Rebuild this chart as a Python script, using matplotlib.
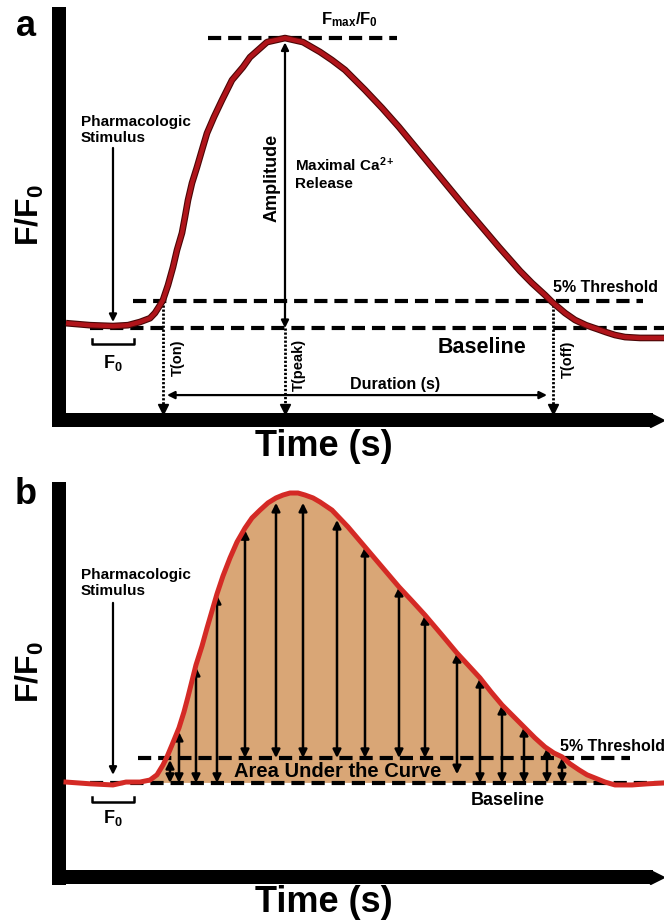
import numpy as np
import matplotlib
matplotlib.use("Agg")
import matplotlib.pyplot as plt

# -------------------------
# STYLE
# -------------------------
plt.rcParams['font.family'] = ['Liberation Sans', 'DejaVu Sans']
plt.rcParams['mathtext.fontset'] = 'custom'
plt.rcParams['mathtext.rm'] = 'Liberation Sans'
plt.rcParams['mathtext.bf'] = 'Liberation Sans:bold'
plt.rcParams['mathtext.it'] = 'Liberation Sans:italic'
plt.rcParams['lines.scale_dashes'] = False

# -------------------------
# DATA (time in s, signal in F/F0)
# -------------------------
time_a = [0.00, 0.48, 0.94, 1.24, 1.48, 1.68, 1.78, 1.88, 1.94, 2.04, 2.14, 2.22,
          2.32, 2.38, 2.44, 2.52, 2.62, 2.72, 2.82, 2.96, 3.12, 3.32, 3.54, 3.68,
          4.02, 4.38, 4.74, 5.08, 5.32, 5.58, 5.98, 6.32, 6.66, 7.32, 7.98, 8.66,
          9.08, 9.32, 9.58, 9.72, 9.98, 10.18, 10.40, 10.62, 10.80, 10.98, 11.18,
          11.48, 11.96]
signal_a = [1.017, 1.010, 1.007, 1.010, 1.021, 1.034, 1.052, 1.079, 1.097, 1.148,
            1.210, 1.269, 1.328, 1.383, 1.441, 1.500, 1.555, 1.614, 1.672, 1.728,
            1.786, 1.855, 1.900, 1.934, 1.986, 2.000, 1.986, 1.952, 1.924, 1.890,
            1.821, 1.759, 1.693, 1.555, 1.417, 1.279, 1.197, 1.155, 1.114, 1.090,
            1.052, 1.028, 1.010, 0.997, 0.986, 0.976, 0.969, 0.966, 0.966]

time_b = [0.00, 0.48, 0.94, 1.20, 1.48, 1.68, 1.82, 1.94, 2.02, 2.12, 2.26, 2.36,
          2.44, 2.52, 2.60, 2.72, 2.82, 2.92, 3.02, 3.14, 3.28, 3.42, 3.58, 3.72,
          3.88, 4.04, 4.20, 4.34, 4.48, 4.64, 4.78, 4.94, 5.08, 5.32, 5.64, 5.98,
          6.32, 6.66, 6.92, 7.18, 7.50, 7.82, 8.04, 8.28, 8.50, 8.72, 8.94, 9.16,
          9.38, 9.58, 9.76, 9.92, 10.08, 10.26, 10.42, 10.58, 10.78, 10.98, 11.32,
          11.64, 11.96]
signal_b = [1.003, 0.997, 0.993, 1.003, 1.003, 1.010, 1.028, 1.062, 1.090, 1.131,
            1.190, 1.245, 1.297, 1.352, 1.407, 1.472, 1.534, 1.593, 1.652, 1.714,
            1.776, 1.831, 1.879, 1.914, 1.941, 1.966, 1.983, 1.993, 2.000, 2.000,
            1.993, 1.983, 1.969, 1.941, 1.883, 1.814, 1.745, 1.676, 1.628, 1.579,
            1.514, 1.448, 1.407, 1.362, 1.314, 1.269, 1.231, 1.193, 1.155, 1.124,
            1.103, 1.090, 1.066, 1.045, 1.028, 1.017, 1.003, 0.993, 0.993, 0.997,
            1.000]

# area-under-curve arrows in panel b
auc_t = [2.08, 2.26, 2.60, 3.02, 3.58, 4.20, 4.74, 5.42, 5.98, 6.66, 7.18, 7.82,
         8.28, 8.72, 9.16, 9.62, 9.92]
auc_top = [1.079, 1.176, 1.400, 1.648, 1.872, 1.966, 1.966, 1.907, 1.814, 1.676,
           1.579, 1.448, 1.362, 1.269, 1.193, 1.121, 1.086]
auc_bottom = [1.0, 1.0, 1.0, 1.0, 1.086, 1.086, 1.086, 1.086, 1.086, 1.086, 1.086,
              1.03, 1.0, 1.0, 1.0, 1.0, 1.0]

baseline = 1.0
threshold_a = 1.093
threshold_b = 1.086
peak_a = 2.0
t_on, t_peak, t_off = 1.94, 4.38, 9.74

# -------------------------
# FIGURE
# -------------------------
fig = plt.figure(figsize=(6.64, 9.23), dpi=100)
ax_a = fig.add_axes([0.0783, 0.5374, 0.9217, 0.4550])
ax_b = fig.add_axes([0.0783, 0.0412, 0.9217, 0.4366])
ax_a.set_xlim(-0.28, 11.96)
ax_a.set_ylim(0.659, 2.107)
ax_b.set_xlim(-0.28, 11.96)
ax_b.set_ylim(0.648, 2.038)

BOLD = dict(fontweight='bold', color='k')
DASH = dict(color='k', lw=3.0, linestyle=(0, (9.5, 5.0)), solid_capstyle='butt',
            dash_capstyle='butt')


def axis_frame(ax, xbar_y):
    ax.set_axis_off()
    ax.axvline(-0.14, 0, 1, color='k', lw=10.08, solid_capstyle='butt', clip_on=False)
    ax.axhline(xbar_y, 0, 0.982, color='k', lw=10.08, solid_capstyle='butt', clip_on=False)
    ax.plot([11.82], [xbar_y], marker='>', ms=10.08, color='k', clip_on=False)


def arrow(ax, x0, y0, x1, y1, style='-|>', lw=1.5, ms=10):
    ax.annotate('', xy=(x1, y1), xytext=(x0, y0),
                arrowprops=dict(arrowstyle=style, lw=lw, color='k',
                                mutation_scale=ms, shrinkA=0, shrinkB=0))


def f0_bracket(ax, yb, ytop, ylab):
    ax.plot([0.52, 0.52, 1.36, 1.36], [ytop, yb, yb, ytop], color='k', lw=1.8)
    ax.text(0.94, ylab, r'$\mathbf{F_0}$', fontsize=13, ha='center', va='center')


# ---------- panel a ----------
axis_frame(ax_a, 0.683)
ax_a.plot([2.84, 6.62], [peak_a, peak_a], **DASH)
ax_a.plot([1.34, 11.54], [threshold_a, threshold_a], **DASH)
ax_a.plot([0.48, 11.96], [baseline, baseline], **DASH)
ax_a.plot(time_a, signal_a, color='#4a0606', lw=4.8, solid_joinstyle='round',
          solid_capstyle='butt', zorder=4)
ax_a.plot(time_a, signal_a, color='#b0141a', lw=3.2, solid_joinstyle='round',
          solid_capstyle='butt', zorder=5)

# dotted time markers
for tx, ytop in [(t_on, threshold_a), (t_peak, baseline), (t_off, threshold_a)]:
    ax_a.plot([tx, tx], [ytop, 0.73], color='k', lw=2.0, linestyle=(0, (1.6, 1.3)))
    ax_a.plot([tx], [0.722], marker='v', ms=7, color='k')

arrow(ax_a, t_peak, 1.0, t_peak, 1.985, style='<|-|>', lw=1.6, ms=11)
arrow(ax_a, 2.02, 0.769, 9.62, 0.769, style='<|-|>', lw=1.6, ms=11)
arrow(ax_a, 0.94, 1.621, 0.94, 1.021, lw=1.6, ms=11)
f0_bracket(ax_a, 0.945, 0.962, 0.879)

ax_a.text(5.68, 2.062, r'$\mathbf{F_{max}/F_0}$', fontsize=12, ha='center', va='center')
ax_a.text(4.12, 1.517, 'Amplitude', fontsize=13, rotation=90, ha='center', va='center', **BOLD)
ax_a.text(4.58, 1.534, 'Maximal Ca$^{\\mathbf{2+}}$\nRelease', fontsize=11, ha='left',
          va='center', linespacing=1.25, **BOLD)
ax_a.text(0.30, 1.683, 'Pharmacologic\nStimulus', fontsize=11, ha='left', va='center',
          linespacing=1.25, **BOLD)
ax_a.text(2.24, 0.897, 'T(on)', fontsize=10.5, rotation=90, ha='center', va='center', **BOLD)
ax_a.text(4.66, 0.872, 'T(peak)', fontsize=10.5, rotation=90, ha='center', va='center', **BOLD)
ax_a.text(10.04, 0.893, 'T(off)', fontsize=10.5, rotation=90, ha='center', va='center', **BOLD)
ax_a.text(6.58, 0.807, 'Duration (s)', fontsize=11.5, ha='center', va='center', **BOLD)
ax_a.text(9.74, 1.141, '5% Threshold', fontsize=11.5, ha='left', va='center', **BOLD)
ax_a.text(8.32, 0.934, 'Baseline', fontsize=15.5, ha='center', va='center', **BOLD)

# ---------- panel b ----------
axis_frame(ax_b, 0.674)
sig_b = np.array(signal_b)
ax_b.fill_between(time_b, sig_b, baseline, where=sig_b >= baseline, interpolate=True,
                  color='#d9a676', lw=0, zorder=1)
ax_b.plot([1.44, 11.28], [threshold_b, threshold_b], zorder=3, **DASH)
ax_b.plot([0.48, 11.96], [baseline, baseline], zorder=3, **DASH)
for tx, top, bot in zip(auc_t, auc_top, auc_bottom):
    arrow(ax_b, tx, bot, tx, top, style='<|-|>', lw=1.8, ms=12)
ax_b.plot(time_b, signal_b, color='#d42a25', lw=3.6, solid_joinstyle='round', zorder=5)

arrow(ax_b, 0.94, 1.621, 0.94, 1.028, lw=1.6, ms=11)
f0_bracket(ax_b, 0.934, 0.952, 0.879)

ax_b.text(0.30, 1.690, 'Pharmacologic\nStimulus', fontsize=11, ha='left', va='center',
          linespacing=1.25, **BOLD)
ax_b.text(5.44, 1.038, 'Area Under the Curve', fontsize=14.5, ha='center', va='center',
          zorder=6, **BOLD)
ax_b.text(9.88, 1.124, '5% Threshold', fontsize=11.5, ha='left', va='center', **BOLD)
ax_b.text(8.84, 0.941, 'Baseline', fontsize=13, ha='center', va='center', **BOLD)

# ---------- panel letters and axis titles ----------
fig.text(0.039, 0.971, 'a', fontsize=26, ha='center', va='center', **BOLD)
fig.text(0.039, 0.464, 'b', fontsize=26, ha='center', va='center', **BOLD)
for yy in (0.767, 0.272):
    fig.text(0.045, yy, r'$\mathbf{F/F_0}$', fontsize=23, rotation=90, ha='center', va='center')
for yy in (0.516, 0.022):
    fig.text(0.488, yy, 'Time (s)', fontsize=26, ha='center', va='center', **BOLD)

fig.savefig('out.png', dpi=100, facecolor='white')
